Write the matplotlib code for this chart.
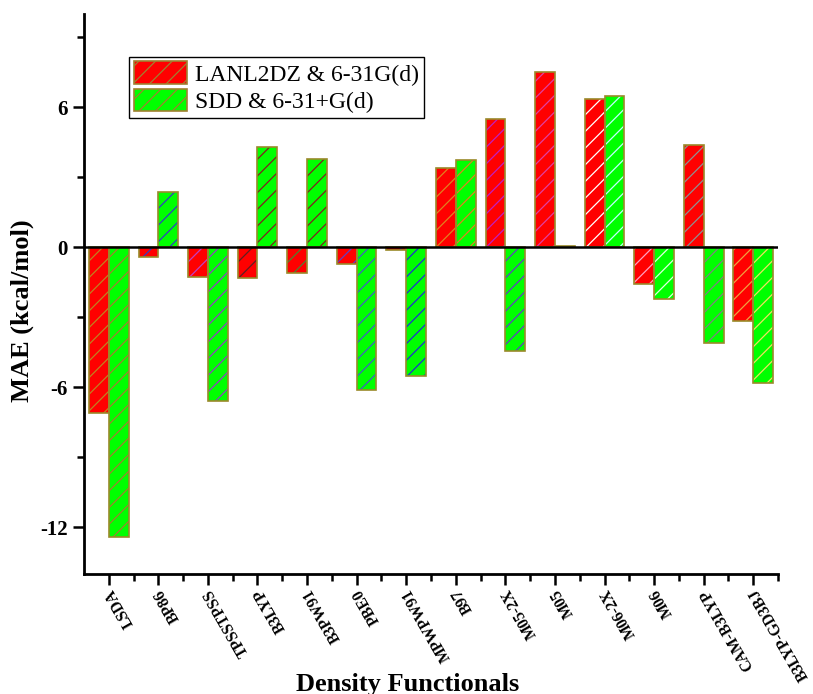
import matplotlib
matplotlib.use('Agg')
import matplotlib.pyplot as plt
from matplotlib.patches import Patch
import numpy as np

functionals = ['LSDA', 'BP86', 'TPSSTPSS', 'B3LYP', 'B3PW91', 'PBE0', 'MPWPW91',
               'B97', 'M05-2X', 'M05', 'M06-2X', 'M06', 'CAM-B3LYP', 'B3LYP-GD3BJ']
lanl2dz = [-7.1, -0.4, -1.29, -1.33, -1.1, -0.7, -0.13,
           3.41, 5.50, 7.50, 6.34, -1.57, 4.37, -3.16]
sdd = [-12.4, 2.36, -6.6, 4.29, 3.77, -6.1, -5.5,
       3.74, -4.44, 0.07, 6.47, -2.22, -4.09, -5.82]
series_names = ['LANL2DZ & 6-31G(d)', 'SDD & 6-31+G(d)']

# hatch line colours differ from bar to bar in the original
hatch_red = ['#c08020', '#3040c0', '#c040c0', '#602020', '#508030', '#6040c0', '#3040c0',
             '#e08020', '#c020c0', '#e040a0', '#ffffff', '#ffa0c0', '#909090', '#f0a040']
hatch_green = ['#a08030', '#3040c0', '#9040c0', '#802020', '#802020', '#4060c0', '#2030d0',
               '#e08020', '#6040c0', '#a08030', '#c0ffff', '#e0ffe0', '#808080', '#f0e060']

plt.rcParams['font.family'] = ['Liberation Serif', 'DejaVu Serif']
plt.rcParams['hatch.linewidth'] = 0.9
plt.rcParams['axes.unicode_minus'] = False

edge = '#9a8a2a'
x = np.arange(len(functionals))
w = 0.4

fig = plt.figure(figsize=(8.13, 6.94), dpi=100)
ax = fig.add_axes([0.1033, 0.1729, 0.8537, 0.8069])

ax.bar(x - w/2, lanl2dz, w, color='#ff0000', edgecolor=hatch_red, linewidth=0, hatch='//')
ax.bar(x + w/2, sdd, w, color='#00ff00', edgecolor=hatch_green, linewidth=0, hatch='//')
ax.bar(x - w/2, lanl2dz, w, fill=False, edgecolor=edge, linewidth=1.2)
ax.bar(x + w/2, sdd, w, fill=False, edgecolor=edge, linewidth=1.2)

ax.axhline(0, color='black', linewidth=1.8)

ax.set_xlim(-0.5, 13.5)
ax.set_ylim(-14, 10)
ax.set_yticks([-12, -6, 0, 6])
ax.set_yticks([-9, -3, 3, 9], minor=True)
ax.set_xticks(x)
ax.set_xticks(x + 0.5, minor=True)
ax.set_xticklabels(functionals, rotation=120, rotation_mode='anchor',
                   ha='right', va='center', fontweight='bold', fontsize=11.3)
for lab in ax.get_yticklabels():
    lab.set_fontweight('bold')
    lab.set_fontsize(15)

for s in ['top', 'right']:
    ax.spines[s].set_visible(False)
for s in ['left', 'bottom']:
    ax.spines[s].set_linewidth(2)
ax.tick_params(axis='both', which='major', length=8, width=1.8, direction='out')
ax.tick_params(axis='both', which='minor', length=5, width=1.8, direction='out')
ax.tick_params(axis='x', which='major', pad=3)

ax.set_ylabel('MAE (kcal/mol)', fontsize=19, fontweight='bold')
ax.yaxis.set_label_coords(-0.072, 0.47)
ax.set_xlabel('Density Functionals', fontsize=19, fontweight='bold', va='top')
ax.xaxis.set_label_coords(0.466, -0.176)

handles = [Patch(facecolor='#ff0000', edgecolor='#a08030', hatch='//', linewidth=1.2),
           Patch(facecolor='#00ff00', edgecolor='#a08030', hatch='//', linewidth=1.2)]
leg = ax.legend(handles, series_names, loc='upper left', bbox_to_anchor=(0.065, 0.924),
                fontsize=17, fancybox=False, edgecolor='black', framealpha=1,
                handlelength=2.25, handleheight=1.1, borderpad=0.2, labelspacing=0.13,
                handletextpad=0.34, borderaxespad=0)
leg.get_frame().set_linewidth(1.0)

fig.savefig('out.png', dpi=100)
